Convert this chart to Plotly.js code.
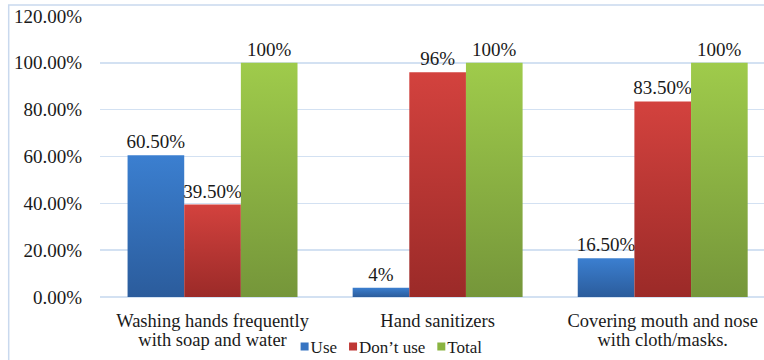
<!DOCTYPE html>
<html>
<head>
<meta charset="utf-8">
<script src="https://cdn.plot.ly/plotly-3.0.1.min.js"></script>
<style>html,body{margin:0;padding:0;background:#fff;}#chart{width:764px;height:360px;}</style>
</head>
<body>
<div id="chart"></div>
<script>
const categories = [
  "Washing hands frequently<br>with soap and water",
  "Hand sanitizers",
  "Covering mouth and nose<br>with cloth/masks."
];
const seriesNames = ["Use", "Don\u2019t use", "Total"];
const useValues = [60.5, 4, 16.5];
const dontUseValues = [39.5, 96, 83.5];
const totalValues = [100, 100, 100];
const useLabels = ["60.50%", "4%", "16.50%"];
const dontUseLabels = ["39.50%", "96%", "83.50%"];
const totalLabels = ["100%", "100%", "100%"];
const yTickVals = [0, 20, 40, 60, 80, 100, 120];
const yTickText = ["0.00%", "20.00%", "40.00%", "60.00%", "80.00%", "100.00%", "120.00%"];

const colors = ["#3674c2", "#bf3734", "#8ab441"];
const gradients = [["#3b7fd0", "#2b5c9c"], ["#d3423e", "#9b2a28"], ["#9fcb4b", "#75963a"]];
const serif = "Liberation Serif";

function mk(name, y, text, color) {
  return {
    type: "bar", name: name, x: categories, y: y, text: text,
    textposition: "outside", constraintext: "none", cliponaxis: false,
    textfont: {family: serif, size: 19, color: "#1a1a1a"},
    marker: {color: color, line: {width: 0}},
    hoverinfo: "skip"
  };
}
const data = [
  mk(seriesNames[0], useValues, useLabels, colors[0]),
  mk(seriesNames[1], dontUseValues, dontUseLabels, colors[1]),
  mk(seriesNames[2], totalValues, totalLabels, colors[2])
];

const layout = {
  width: 764, height: 360,
  margin: {l: 100, r: 0, t: 16, b: 63, autoexpand: false},
  paper_bgcolor: "#ffffff", plot_bgcolor: "#ffffff",
  barmode: "group", bargap: 0.245, bargroupgap: 0,
  font: {family: serif, size: 18, color: "#1a1a1a"},
  xaxis: {
    type: "category", range: [-0.5, 2.45], showgrid: false, zeroline: false,
    showline: false, ticks: "", ticklabelstandoff: 10, automargin: false,
    tickfont: {family: serif, size: 18.5, color: "#1a1a1a"}
  },
  yaxis: {
    range: [0, 120], tickvals: yTickVals, ticktext: yTickText,
    showgrid: true, gridcolor: "#d3e1f2", gridwidth: 1.5,
    zeroline: true, zerolinecolor: "#d3e1f2", zerolinewidth: 1.5,
    showline: false, ticks: "", ticklabelstandoff: 17, automargin: false,
    tickfont: {family: serif, size: 19, color: "#1a1a1a"}
  },
  legend: {
    orientation: "h", x: 0.275, xanchor: "left", y: -0.178, yanchor: "middle",
    font: {family: serif, size: 17, color: "#1a1a1a"},
    bgcolor: "rgba(0,0,0,0)", itemwidth: 30, tracegroupgap: 0
  },
  shapes: [{
    type: "rect", xref: "paper", yref: "paper",
    x0: -0.1375, x1: 1.05, y0: -0.4, y1: 1.039,
    line: {color: "#c9d9ee", width: 1.5}, fillcolor: "rgba(0,0,0,0)", layer: "below"
  }],
  showlegend: true
};

Plotly.newPlot("chart", data, layout, {displayModeBar: false, staticPlot: true}).then(function (gd) {
  const svg = gd.querySelector(".main-svg");
  const ns = "http://www.w3.org/2000/svg";
  let defs = svg.querySelector("defs");
  if (!defs) { defs = document.createElementNS(ns, "defs"); svg.insertBefore(defs, svg.firstChild); }
  gradients.forEach(function (g, i) {
    const lg = document.createElementNS(ns, "linearGradient");
    lg.setAttribute("id", "barGrad" + i);
    lg.setAttribute("x1", "0"); lg.setAttribute("y1", "0");
    lg.setAttribute("x2", "0"); lg.setAttribute("y2", "1");
    [[0, g[0]], [1, g[1]]].forEach(function (s) {
      const st = document.createElementNS(ns, "stop");
      st.setAttribute("offset", s[0]);
      st.setAttribute("stop-color", s[1]);
      lg.appendChild(st);
    });
    defs.appendChild(lg);
  });
  gd.querySelectorAll(".barlayer .trace").forEach(function (tr, i) {
    tr.querySelectorAll(".point path").forEach(function (p) {
      p.style.fill = "url(#barGrad" + i + ")";
    });
  });
  // tighter line spacing for two-line category labels
  gd.querySelectorAll(".xtick text").forEach(function (t) {
    t.querySelectorAll("tspan.line").forEach(function (ts, k) {
      if (k > 0) ts.setAttribute("dy", "1.08em");
    });
  });
  // compact legend: small square symbol, text right after it, items packed by text width
  let xPos = null, yPos = 0;
  gd.querySelectorAll(".legend .traces").forEach(function (tr) {
    tr.querySelectorAll(".legendpoints path").forEach(function (p) {
      p.setAttribute("d", "M4,4H-4V-4H4Z");
      p.setAttribute("transform", "translate(22,0)");
    });
    const t = tr.querySelector(".legendtext");
    if (t) t.setAttribute("x", "28");
    const m = /translate\(\s*([-\d.]+)[ ,]+([-\d.]+)\s*\)/.exec(tr.getAttribute("transform") || "");
    if (m) {
      if (xPos === null) { xPos = parseFloat(m[1]); yPos = parseFloat(m[2]); }
      tr.setAttribute("transform", "translate(" + xPos + "," + yPos + ")");
      const w = t ? t.getComputedTextLength() : 0;
      xPos += w + 22;
    }
  });
});
</script>
</body>
</html>
